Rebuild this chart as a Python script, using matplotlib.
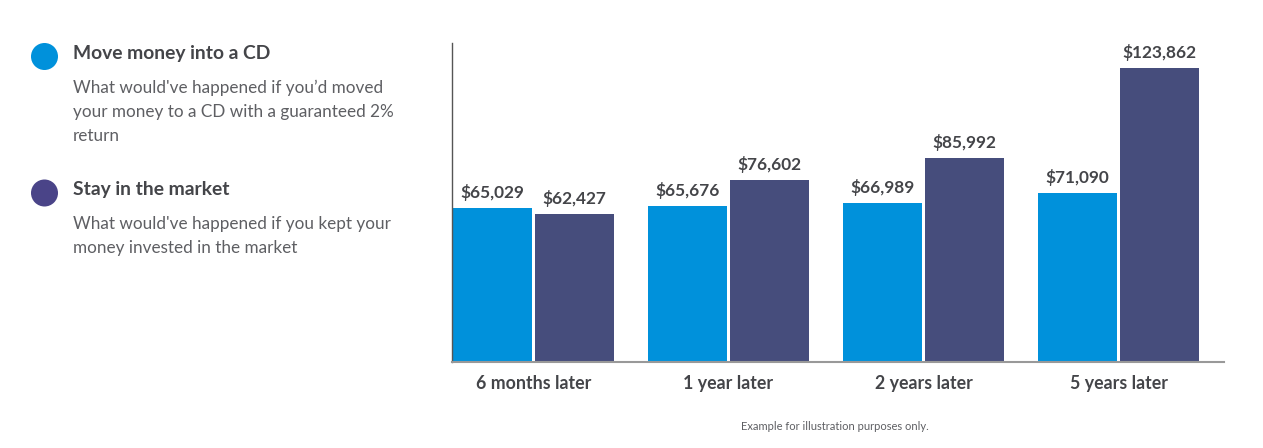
import matplotlib
matplotlib.use('Agg')
import matplotlib.pyplot as plt
from matplotlib.patches import Circle
import numpy as np

plt.rcParams['font.family'] = 'Lato'

# data
periods = ['6 months later', '1 year later', '2 years later', '5 years later']
cd_values = [65029, 65676, 66989, 71090]
market_values = [62427, 76602, 85992, 123862]

legend_titles = ['Move money into a CD', 'Stay in the market']
legend_texts = [
    ["What would've happened if you’d moved",
     'your money to a CD with a guaranteed 2%',
     'return'],
    ["What would've happened if you kept your",
     'money invested in the market'],
]
footnote = 'Example for illustration purposes only.'

BLUE = '#0091DB'
NAVY = '#464D7C'
DOT_NAVY = '#4A4488'
DARK = '#444549'
GREY = '#5E5F63'

W, H = 1263, 448
fig = plt.figure(figsize=(W / 100, H / 100), dpi=100)

# main chart, placed in pixels
ax = fig.add_axes([452 / W, 1 - 362 / H, (1224 - 452) / W, (362 - 43) / H])
x = np.arange(len(periods))
ax.bar(x - 0.21, cd_values, width=0.403, color=BLUE)
ax.bar(x + 0.21, market_values, width=0.403, color=NAVY)
ax.set_xlim(-0.418, 3.541)
ax.set_ylim(0, 134400)

for xs, vals in [(x - 0.21, cd_values), (x + 0.21, market_values)]:
    for xi, v in zip(xs, vals):
        ax.annotate('${:,}'.format(v), (xi, v), textcoords='offset points',
                    xytext=(0, 5), ha='center', va='bottom', fontsize=12.4,
                    fontweight='bold', color=DARK)

ax.spines['top'].set_visible(False)
ax.spines['right'].set_visible(False)
ax.spines['left'].set_color('#555555')
ax.spines['left'].set_linewidth(1.0)
ax.spines['bottom'].set_color('#999999')
ax.spines['bottom'].set_linewidth(1.5)
ax.set_yticks([])
ax.set_xticks(x)
ax.set_xticklabels(periods, fontsize=12.8, fontweight='bold', color=DARK)
ax.tick_params(axis='x', length=0, pad=9)

# overlay in pixel coordinates for the legend block
ov = fig.add_axes([0, 0, 1, 1])
ov.set_xlim(0, W)
ov.set_ylim(H, 0)
ov.axis('off')
ov.patch.set_alpha(0)

ov.add_patch(Circle((44.5, 56.5), 13.5, color=BLUE, lw=0))
ov.add_patch(Circle((44.5, 193), 13.5, color=DOT_NAVY, lw=0))

title_y = [53, 189]
body_y = [88, 224]
for title, lines, ty, by in zip(legend_titles, legend_texts, title_y, body_y):
    ov.text(73, ty, title, fontsize=13.85, fontweight='bold', color=DARK, va='center')
    for i, line in enumerate(lines):
        ov.text(73, by + i * 24, line, fontsize=12.35, color=GREY, va='center')

ov.text(835, 427, footnote, fontsize=8, color=GREY, ha='center', va='center')

fig.savefig('out.png', dpi=100)
